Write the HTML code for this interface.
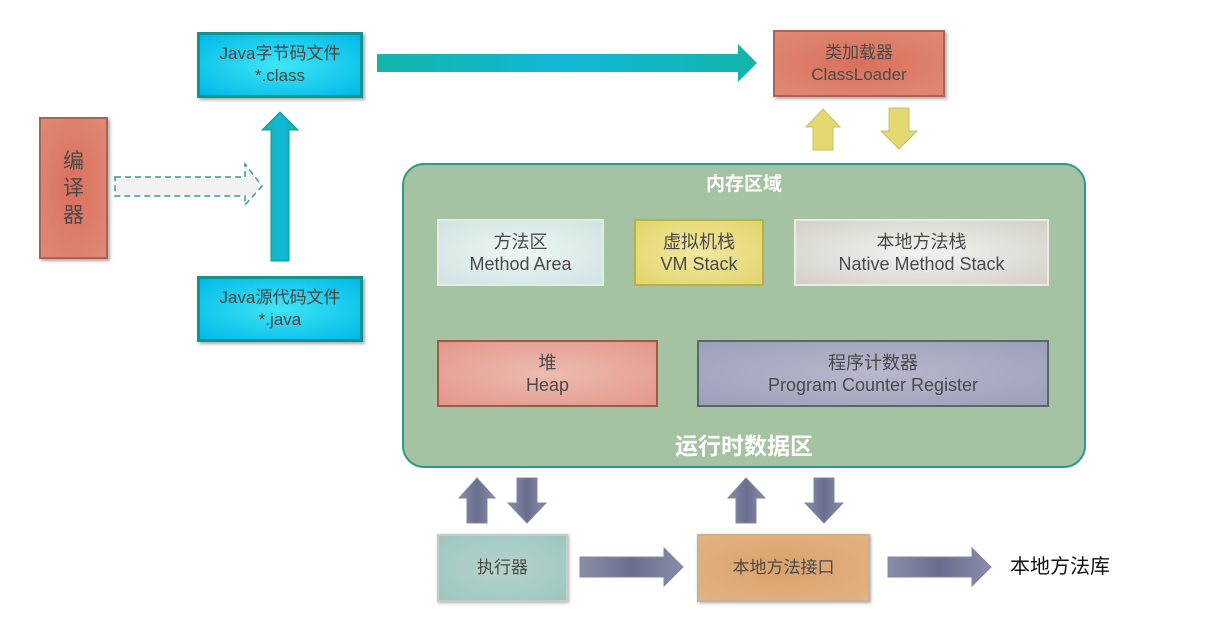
<!DOCTYPE html>
<html><head><meta charset="utf-8"><style>
body{margin:0;width:1210px;height:620px;background:#fff;position:relative;overflow:hidden;font-family:"Liberation Sans","Noto Sans CJK SC",sans-serif;}
.b{position:absolute;box-sizing:border-box;display:flex;flex-direction:column;align-items:center;justify-content:center;text-align:center;color:#4a4a4a;font-size:18px;line-height:22px;}
.cy{background:radial-gradient(ellipse at center,#3fe6f5,#00b8e8);border:3px solid #13928f;box-shadow:2px 2px 3px #aaa;color:#444;font-size:17px;}
.rd{background:radial-gradient(ellipse at center,#d9705c,#df8a75);border:2px solid #a86458;box-shadow:2px 2px 3px #aaa;}
</style></head><body>
<div class="b cy" style="left:197px;top:32px;width:166px;height:66px;">Java字节码文件<br>*.class</div>
<div class="b cy" style="left:197px;top:276px;width:166px;height:66px;">Java源代码文件<br>*.java</div>
<div class="b rd" style="left:39px;top:117px;width:69px;height:142px;font-size:21px;line-height:27px;">编<br>译<br>器</div>
<div class="b rd" style="left:773px;top:30px;width:172px;height:67px;font-size:17px;">类加载器<br>ClassLoader</div>
<div class="b" style="left:402px;top:163px;width:684px;height:305px;border-radius:22px;background:#a5c2a2;border:2px solid #2a9a8a;"></div>
<div class="b" style="left:402px;top:170px;width:684px;height:30px;color:#fff;font-weight:bold;font-size:19px;">内存区域</div>
<div class="b" style="left:402px;top:430px;width:684px;height:32px;color:#fff;font-weight:bold;font-size:23px;">运行时数据区</div>
<div class="b" style="left:437px;top:219px;width:167px;height:67px;background:radial-gradient(ellipse,#eef6f4,#cfe3e2);border:2px solid #e0eee8;">方法区<br>Method Area</div>
<div class="b" style="left:634px;top:219px;width:130px;height:67px;background:radial-gradient(ellipse,#f2e8a0,#e2d46a);border:2px solid #b8b040;">虚拟机栈<br>VM Stack</div>
<div class="b" style="left:794px;top:219px;width:255px;height:67px;background:radial-gradient(ellipse,#f3f3ef,#d3cfc8);border:2px solid #e8ece4;">本地方法栈<br>Native Method Stack</div>
<div class="b" style="left:437px;top:340px;width:221px;height:67px;background:radial-gradient(ellipse,#ecbcb0,#e4968a);border:2px solid #9c5a48;">堆<br>Heap</div>
<div class="b" style="left:697px;top:340px;width:352px;height:67px;background:radial-gradient(ellipse,#b6b8cc,#9c9fb8);border:2px solid #5a6668;">程序计数器<br>Program Counter Register</div>
<div class="b" style="left:437px;top:534px;width:131px;height:68px;background:radial-gradient(ellipse,#b6d2cc,#9cc6c0);border:2px solid #c8ccc8;box-shadow:1px 1px 3px #aaa;font-size:17px;">执行器</div>
<div class="b" style="left:697px;top:534px;width:173px;height:68px;background:radial-gradient(ellipse,#daa16a,#e2b480);border:2px solid #c8b090;box-shadow:1px 1px 3px #aaa;font-size:17px;">本地方法接口</div>
<div class="b" style="left:1000px;top:552px;width:120px;height:30px;color:#111;font-size:20px;">本地方法库</div>
<svg width="1210" height="620" style="position:absolute;left:0;top:0">
<defs>
<linearGradient id="tg" x1="0" x2="1"><stop offset="0" stop-color="#13b4a8"/><stop offset=".5" stop-color="#10b8d8"/><stop offset="1" stop-color="#13b4a8"/></linearGradient>
<linearGradient id="pg" x1="0" x2="1"><stop offset="0" stop-color="#8a8ca8"/><stop offset=".5" stop-color="#6a6e8e"/><stop offset="1" stop-color="#8a8ca8"/></linearGradient>
</defs>
<polygon points="115,177 245,177 245,164 262,186 245,205 245,196 115,196" fill="#f2f2f2" stroke="#3a9a94" stroke-width="1.5" stroke-dasharray="6,4"/>
<polygon points="271,261 271,130 262,130 280,112 298,130 289,130 289,261" fill="url(#tg)" stroke="#0a9a90"/>
<polygon points="377,54 738,54 738,44 757,63 738,82 738,72 377,72" fill="url(#tg)"/>
<polygon points="813,150 813,127 806,127 823,109 840,127 833,127 833,150" fill="#e4d870" stroke="#c8c060"/>
<polygon points="889,108 909,108 909,131 917,131 899,149 881,131 889,131" fill="#e4d870" stroke="#c8c060"/>
<g fill="url(#pg)" stroke="#8088a0">
<polygon points="467,523 467,498 459,498 477,478 495,498 487,498 487,523"/>
<polygon points="517,478 537,478 537,503 546,503 527,523 508,503 517,503"/>
<polygon points="736,523 736,498 728,498 746,478 765,498 756,498 756,523"/>
<polygon points="814,478 834,478 834,503 843,503 824,523 805,503 814,503"/>
<polygon points="580,557 664,557 664,548 683,567 664,586 664,577 580,577"/>
<polygon points="888,557 972,557 972,548 991,567 972,586 972,577 888,577"/>
</g>
</svg>
</body></html>
